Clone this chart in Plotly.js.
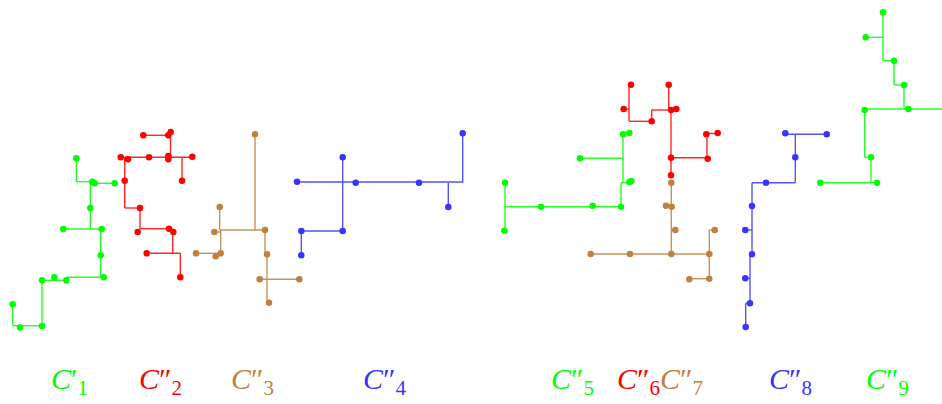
<!DOCTYPE html>
<html>
<head>
<meta charset="utf-8">
<script src="https://cdn.plot.ly/plotly-3.0.1.min.js"></script>
<style>html,body{margin:0;padding:0;background:#fff}#chart{width:942px;height:404px}</style>
</head>
<body>
<div id="chart"></div>
<script>
// Tree labels and colours
const treeNames = ["C′", "C″", "C″", "C″", "C″", "C″", "C″", "C″", "C″"];
const treeSubs = ["1", "2", "3", "4", "5", "6", "7", "8", "9"];
const treeColors = ["#00ff00", "#ff0000", "#bf8040", "#3535ff", "#00ff00", "#ff0000", "#bf8040", "#3535ff", "#00ff00"];
const labelX = [49, 137, 229, 361, 549, 615, 658, 767, 864];

// Terminal points of each tree (x, y in picture units)
const pointsC1 = [[12.7,304.3],[20,327.5],[42,326],[42,280.3],[54.3,277.3],[66.3,280.3],[103.7,277.3],[100.7,255.3],[101.7,229],[63.3,229],[90.3,208],[92.3,181.7],[94.7,183.3],[114.7,183.3],[76.3,158.3]];
const pointsC2 = [[143.3,135.3],[168.3,135.3],[170.7,132],[120.7,157.3],[128,159.3],[149,157.3],[168.3,156],[168.3,159.3],[192.3,156.7],[182,180.7],[124.7,180.7],[140,208],[137.7,232],[169,228.7],[173.3,232],[146.7,253.3],[180.3,277.3]];
const pointsC3 = [[255,134.3],[219.7,207],[214.3,232],[265,230],[196,253.3],[215.7,256.3],[220.7,253.3],[267,254.3],[259.7,279.3],[299.3,279.3],[269,302.7]];
const pointsC4 = [[462.7,133.3],[342.7,157.3],[297,181.7],[355.7,182.7],[419,182.7],[448.3,207],[301.3,231],[342.7,231],[301.3,255.3]];
const pointsC5 = [[505,182.7],[504.3,230.7],[541,206.7],[592.7,205.7],[621,206.7],[629.3,182],[631.3,181],[580,158.3],[623,134.3],[629.3,133]];
const pointsC6 = [[631,84.7],[668.7,84.7],[623.7,109],[651.7,121.3],[671,110],[676.3,109],[706.3,134.3],[717.7,133],[671,157.7],[707.7,158.7],[671,175.3]];
const pointsC7 = [[671.3,182.7],[666,205.7],[671.7,206.7],[675.3,230],[590.7,254],[630,254],[671.3,254],[709.3,254],[714.7,230],[709.3,278.7],[689.3,279.3]];
const pointsC8 = [[785.3,133.3],[826.7,134.3],[795.3,157.3],[766,182.7],[752,206],[745.3,230],[752,254.3],[745.3,278.3],[750,303.3],[745.7,327]];
const pointsC9 = [[883,12.3],[865.7,37.3],[894,60.7],[904,85],[908.3,109],[864.7,110],[871,157.3],[877,182.7],[820.3,182.7]];

// Edges of each tree: [x1, y1, x2, y2]
const edgesC1 = [[12.7,304.3,12.7,325.7],[12.7,325.7,42,325.7],[42,325.7,42,280.3],[42,280.3,66.3,280.3],[66.3,280.3,66.3,277.3],[66.3,277.3,103.7,277.3],[100.7,277.3,100.7,229],[63.3,229,101.7,229],[90.3,229,90.3,181.7],[90.3,183.3,114.7,183.3],[76.3,158.3,76.3,181.7],[76.3,181.7,92.3,181.7]];
const edgesC2 = [[143.3,135.3,168.3,135.3],[170.5,132,170.5,157.3],[120.7,157.3,192.3,157.3],[182,157.3,182,180.7],[124.7,157.3,124.7,208],[124.7,208,140,208],[140,208,140,228.7],[139.5,228.7,170,228.7],[172.7,228.7,172.7,253.3],[146.7,253.3,180.3,253.3],[180.3,253.3,180.3,277.3]];
const edgesC3 = [[255,134.3,255,230],[219.7,230,265,230],[219.7,207,219.7,230],[220.7,230,220.7,253.3],[196,253.3,220.7,253.3],[214.3,232,220.7,232],[265,230,265,254.3],[267,254.3,267,302.7],[259.7,279.3,299.3,279.3]];
const edgesC4 = [[297,182,462.7,182],[462.7,133.3,462.7,182.7],[342.7,157.3,342.7,231],[301.3,231,342.7,231],[301.3,231,301.3,255.3],[448.3,182.7,448.3,207]];
const edgesC5 = [[505,182.7,505,230.7],[505,206.7,621,206.7],[621,206.7,621,182.7],[621,182.7,629.3,182.7],[623,134.3,623,182.7],[580,158.3,623,158.3],[623,134,629.3,133]];
const edgesC6 = [[629,84.7,629,121.3],[623.7,109,629,109],[629,121.3,651.7,121.3],[651.7,121.3,651.7,110],[651.7,110,676.3,110],[668.7,84.7,668.7,110],[671,110,671,175.3],[671,157.7,707.7,157.7],[707,134.3,707,157.7],[706.3,133.5,717.7,133.5]];
const edgesC7 = [[671.3,182.7,671.3,254],[590.7,254,709.3,254],[709.3,230,709.3,278.7],[709.3,230,714.7,230],[689.3,278.7,709.3,278.7],[666,205.7,671.3,205.7],[671.3,230,675.3,230]];
const edgesC8 = [[785.3,134.3,826.7,134.3],[795.3,134.3,795.3,182.7],[752,182.7,795.3,182.7],[752,182.7,752,254.3],[750,254.3,750,303.3],[745.7,303.3,750,303.3],[745.7,303.3,745.7,327],[745.3,230,752,230],[745.3,278.3,750,278.3]];
const edgesC9 = [[883,12.3,883,60.7],[865.7,37.3,883,37.3],[883,60.7,894,60.7],[894,60.7,894,85],[894,85,904,85],[904,85,904,109],[864.7,109,942,109],[864.7,109,864.7,157.3],[864.7,157.3,871,157.3],[871,157.3,871,182.7],[820.3,182.7,877,182.7]];

const allPoints = [pointsC1, pointsC2, pointsC3, pointsC4, pointsC5, pointsC6, pointsC7, pointsC8, pointsC9];
const allEdges = [edgesC1, edgesC2, edgesC3, edgesC4, edgesC5, edgesC6, edgesC7, edgesC8, edgesC9];

const traces = [];
allEdges.forEach((segs, i) => {
  const x = [], y = [];
  segs.forEach(s => { x.push(s[0], s[2], null); y.push(s[1], s[3], null); });
  traces.push({type: 'scatter', mode: 'lines', x, y, line: {color: treeColors[i], width: 1.4}, opacity: 0.85, hoverinfo: 'skip', showlegend: false});
});
allPoints.forEach((pts, i) => {
  traces.push({type: 'scatter', mode: 'markers', x: pts.map(p => p[0]), y: pts.map(p => p[1]),
    marker: {color: treeColors[i], size: 6.5}, hoverinfo: 'skip', showlegend: false});
});

const annotations = [];
treeNames.forEach((nm, i) => {
  const prime = nm.slice(1);
  annotations.push({x: labelX[i], y: 381, xref: 'x', yref: 'y', xanchor: 'left', yanchor: 'middle', showarrow: false,
    text: '<i>C</i>' + prime + '<sub>' + treeSubs[i] + '</sub>',
    font: {family: 'Liberation Serif', size: 30, color: treeColors[i]}});
});

const layout = {
  width: 942, height: 404,
  margin: {l: 0, r: 0, t: 0, b: 0},
  paper_bgcolor: '#ffffff', plot_bgcolor: '#ffffff',
  xaxis: {range: [0, 942], visible: false, fixedrange: true},
  yaxis: {range: [404, 0], visible: false, fixedrange: true},
  annotations,
  showlegend: false
};
Plotly.newPlot('chart', traces, layout, {staticPlot: true, displayModeBar: false});
</script>
</body>
</html>
